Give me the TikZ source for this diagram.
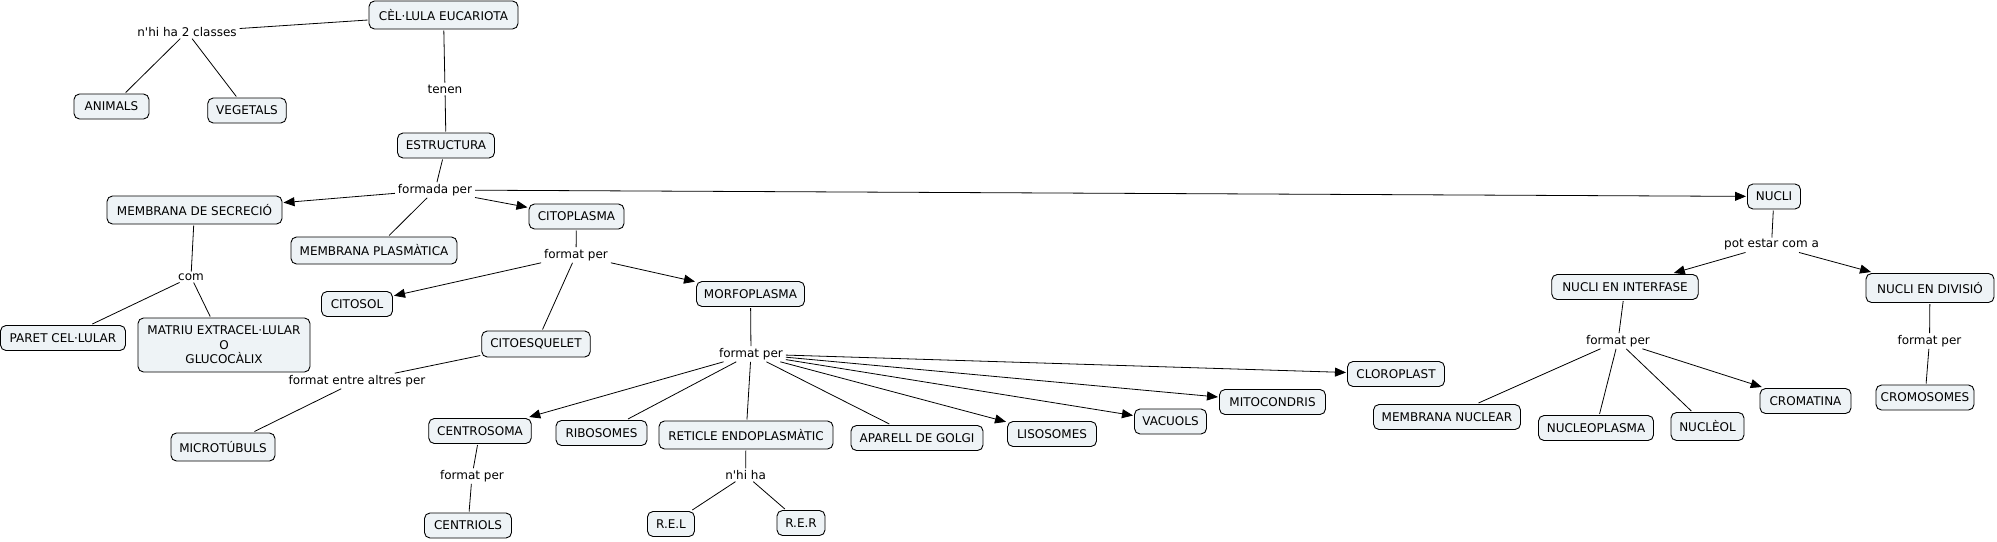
\documentclass[tikz,border=0pt]{standalone}
\usepackage{fontspec}
\setmainfont{DejaVu Sans}
\usetikzlibrary{arrows.meta}
\definecolor{boxfill}{RGB}{238,243,246}
\newcommand{\ap}{\textquotesingle}
\begin{document}
\begin{tikzpicture}[x=1pt,y=-1pt,
  font=\fontsize{12}{14.5}\selectfont,
  box/.style={draw=black, fill=boxfill, rounded corners=5.5pt, line width=0.9pt,
    inner sep=0pt, outer sep=1.5pt, align=center},
  lab/.style={inner xsep=3pt, inner ysep=2pt, outer sep=0pt},
  ln/.style={line width=0.8pt, draw=black},
  arr/.style={ln, -{Triangle[length=11pt,width=9pt]}}]
\fill[white] (0,0) rectangle (1997,541);
\useasboundingbox (0,0) rectangle (1997,541);

% concepts
\node[box, minimum width=149pt, minimum height=28pt] (cel) at (443.5,15) {CÈL·LULA EUCARIOTA};
\node[box, minimum width=75pt, minimum height=25pt] (animals) at (111.5,106.5) {ANIMALS};
\node[box, minimum width=78.5pt, minimum height=25pt] (vegetals) at (247,110.5) {VEGETALS};
\node[box, minimum width=97pt, minimum height=25pt] (estructura) at (446,145.5) {ESTRUCTURA};
\node[box, minimum width=175pt, minimum height=28pt] (memsec) at (194.5,210) {MEMBRANA DE SECRECIÓ};
\node[box, minimum width=166pt, minimum height=27pt] (memplas) at (374,250.5) {MEMBRANA PLASMÀTICA};
\node[box, minimum width=95pt, minimum height=25pt] (citoplasma) at (576.5,216.5) {CITOPLASMA};
\node[box, minimum width=125pt, minimum height=25pt] (paret) at (63,338) {PARET CEL·LULAR};
\node[box, minimum width=172pt, minimum height=54pt] (matriu) at (224,345) {MATRIU EXTRACEL·LULAR\\O\\GLUCOCÀLIX};
\node[box, minimum width=71pt, minimum height=25pt] (citosol) at (357,304) {CITOSOL};
\node[box, minimum width=108.5pt, minimum height=26pt] (citoesq) at (536,344) {CITOESQUELET};
\node[box, minimum width=104pt, minimum height=28pt] (microtubuls) at (223,447) {MICROTÚBULS};
\node[box, minimum width=108pt, minimum height=25pt] (morfoplasma) at (750.5,294) {MORFOPLASMA};
\node[box, minimum width=102.5pt, minimum height=25pt] (centrosoma) at (480,431) {CENTROSOMA};
\node[box, minimum width=87pt, minimum height=25pt] (centriols) at (468,525.5) {CENTRIOLS};
\node[box, minimum width=91pt, minimum height=25pt] (ribosomes) at (601.5,433) {RIBOSOMES};
\node[box, minimum width=174pt, minimum height=28pt] (reticle) at (746,435) {RETICLE ENDOPLASMÀTIC};
\node[box, minimum width=132pt, minimum height=25pt] (aparell) at (917,438) {APARELL DE GOLGI};
\node[box, minimum width=47pt, minimum height=25pt] (rel) at (671,524) {R.E.L};
\node[box, minimum width=48pt, minimum height=25pt] (rer) at (801,523) {R.E.R};
\node[box, minimum width=89pt, minimum height=25pt] (lisosomes) at (1052,434) {LISOSOMES};
\node[box, minimum width=72pt, minimum height=25pt] (vacuols) at (1170.5,421.5) {VACUOLS};
\node[box, minimum width=106pt, minimum height=25pt] (mitocondris) at (1272.5,402) {MITOCONDRIS};
\node[box, minimum width=97pt, minimum height=25pt] (cloroplast) at (1396,374) {CLOROPLAST};
\node[box, minimum width=53pt, minimum height=25pt] (nucli) at (1774,196.5) {NUCLI};
\node[box, minimum width=146.5pt, minimum height=25pt] (ninterfase) at (1625,287) {NUCLI EN INTERFASE};
\node[box, minimum width=128pt, minimum height=29pt] (ndivisio) at (1930,288) {NUCLI EN DIVISIÓ};
\node[box, minimum width=147pt, minimum height=25pt] (membnuc) at (1447,417) {MEMBRANA NUCLEAR};
\node[box, minimum width=115pt, minimum height=25pt] (nucleoplasma) at (1596,428) {NUCLEOPLASMA};
\node[box, minimum width=73pt, minimum height=28pt] (nucleol) at (1707.5,426.5) {NUCLÈOL};
\node[box, minimum width=91pt, minimum height=25pt] (cromatina) at (1805.5,401) {CROMATINA};
\node[box, minimum width=98pt, minimum height=25pt] (cromosomes) at (1925,397.5) {CROMOSOMES};

% linking phrases
\node[lab] (nhi2) at (187,32) {n\ap hi ha 2 classes};
\node[lab] (tenen) at (445,89) {tenen};
\node[lab] (formada) at (435,190) {formada per};
\node[lab] (com) at (191,277) {com};
\node[lab] (fpcito) at (576,255) {format per};
\node[lab] (fea) at (357,381) {format entre altres per};
\node[lab] (fpcentro) at (472,476) {format per};
\node[lab] (fpmorf) at (751,354) {format per};
\node[lab] (nhiha) at (745.6,475) {n\ap hi ha};
\node[lab] (pot) at (1771.5,245) {pot estar com a};
\node[lab] (fpni) at (1618,341) {format per};
\node[lab] (fpnd) at (1929.5,341) {format per};

% connectors
\draw[ln] (cel) -- (nhi2);
\draw[ln] (nhi2) -- (animals);
\draw[ln] (nhi2) -- (vegetals);
\draw[ln] (cel) -- (tenen);
\draw[ln] (tenen) -- (estructura);
\draw[ln] (estructura) -- (formada);
\draw[arr] (formada) -- (memsec);
\draw[ln] (formada) -- (memplas);
\draw[arr] (formada) -- (citoplasma);
\draw[arr] (formada) -- (nucli);
\draw[ln] (memsec) -- (com);
\draw[ln] (com) -- (paret);
\draw[ln] (com) -- (matriu);
\draw[ln] (citoplasma) -- (fpcito);
\draw[arr] (fpcito) -- (citosol);
\draw[ln] (fpcito) -- (citoesq);
\draw[arr] (fpcito) -- (morfoplasma);
\draw[ln] (citoesq) -- (fea);
\draw[ln] (fea) -- (microtubuls);
\draw[ln] (morfoplasma) -- (fpmorf);
\draw[arr] (fpmorf) -- (centrosoma);
\draw[ln] (fpmorf) -- (ribosomes);
\draw[ln] (fpmorf) -- (reticle);
\draw[ln] (fpmorf) -- (aparell);
\draw[arr] (fpmorf) -- (lisosomes);
\draw[arr] (fpmorf) -- (vacuols);
\draw[arr] (fpmorf) -- (mitocondris);
\draw[arr] (fpmorf) -- (cloroplast);
\draw[ln] (centrosoma) -- (fpcentro);
\draw[ln] (fpcentro) -- (centriols);
\draw[ln] (reticle) -- (nhiha);
\draw[ln] (nhiha) -- (rel);
\draw[ln] (nhiha) -- (rer);
\draw[ln] (nucli) -- (pot);
\draw[arr] (pot) -- (ninterfase);
\draw[arr] (pot) -- (ndivisio);
\draw[ln] (ninterfase) -- (fpni);
\draw[ln] (fpni) -- (membnuc);
\draw[ln] (fpni) -- (nucleoplasma);
\draw[ln] (fpni) -- (nucleol);
\draw[arr] (fpni) -- (cromatina);
\draw[ln] (ndivisio) -- (fpnd);
\draw[ln] (fpnd) -- (cromosomes);
\end{tikzpicture}
\end{document}
